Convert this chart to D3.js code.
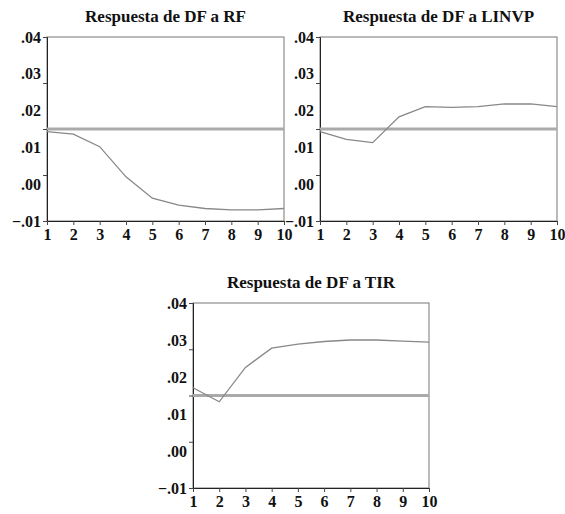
<!DOCTYPE html>
<html>
<head>
<meta charset="utf-8">
<style>
body { margin: 0; background: #fff; }
text { font-family: "Liberation Serif", "Times New Roman", serif; font-weight: bold; fill: #111; }
.frame { fill: none; stroke: #777; stroke-width: 1; }
.ref { stroke: #aaa; stroke-width: 3; }
.resp { fill: none; stroke: #888; stroke-width: 1.3; }
</style>
</head>
<body>
<svg width="565" height="514"></svg>
<script src="https://cdn.jsdelivr.net/npm/d3@7"></script>
<script>
// horizonte (periodos)
var periods = [1, 2, 3, 4, 5, 6, 7, 8, 9, 10];
var yTickLabels = [0.04, 0.03, 0.02, 0.01, 0.00, -0.01];
var refLevel = 0.015;

// respuestas
var respRF    = [0.0143, 0.0136, 0.0102, 0.0020, -0.0038, -0.0057, -0.0066, -0.0070, -0.0070, -0.0066];
var respLINVP = [0.0143, 0.0122, 0.0113, 0.0183, 0.0211, 0.0209, 0.0211, 0.0218, 0.0218, 0.0211];
var respTIR   = [0.0171, 0.0133, 0.0226, 0.0278, 0.0289, 0.0296, 0.0300, 0.0300, 0.0297, 0.0294];

var panels = [
  {title: "Respuesta de DF a RF",    vals: respRF,    x0: 47,  y0: 37,  w: 237, h: 184},
  {title: "Respuesta de DF a LINVP", vals: respLINVP, x0: 320, y0: 37,  w: 237, h: 184},
  {title: "Respuesta de DF a TIR",   vals: respTIR,   x0: 193, y0: 303, w: 236, h: 185}
];

var svg = d3.select("svg");
var fmt = function(d) { return d3.format(".2f")(d).replace("0.", "."); };

panels.forEach(function(p) {
  var g = svg.append("g").attr("transform", "translate(" + p.x0 + "," + p.y0 + ")");

  var x = d3.scaleLinear().domain([1, 10]).range([0, p.w]);
  var y = d3.scaleLinear().domain([-0.01, 0.04]).range([p.h, 0]);

  g.append("text")
      .attr("x", p.w / 2)
      .attr("y", -15)
      .attr("text-anchor", "middle")
      .style("font-size", "17px")
      .text(p.title);

  g.append("rect").attr("class", "frame")
      .attr("width", p.w).attr("height", p.h);

  // y: marcas (4 intervalos) y etiquetas aparte
  g.append("g")
      .call(d3.axisLeft(y).tickValues(d3.range(5).map(function(i) { return -0.01 + i * 0.0125; }))
        .tickSize(4).tickFormat(""))
      .call(function(a) { a.select(".domain").attr("stroke", "#222"); a.selectAll("line").attr("stroke", "#444"); });

  g.append("g")
      .call(d3.axisLeft(y).tickValues(yTickLabels).tickSize(0).tickPadding(6).tickFormat(fmt))
      .call(function(a) {
        a.select(".domain").remove();
        a.selectAll("text").style("font-size", "16px").attr("font-family", null).attr("fill", null);
      });

  g.append("g")
      .attr("transform", "translate(0," + p.h + ")")
      .call(d3.axisBottom(x).tickValues(periods).tickSize(4).tickPadding(4).tickFormat(d3.format("d")))
      .call(function(a) {
        a.select(".domain").attr("stroke", "#222");
        a.selectAll("line").attr("stroke", "#444");
        a.selectAll("text").style("font-size", "16px").attr("font-family", null).attr("fill", null);
      });

  g.append("line").attr("class", "ref")
      .attr("x1", 0).attr("x2", p.w)
      .attr("y1", y(refLevel)).attr("y2", y(refLevel));

  g.append("path").attr("class", "resp")
      .datum(p.vals)
      .attr("d", d3.line()
        .x(function(d, i) { return x(periods[i]); })
        .y(function(d) { return y(d); }));
});
</script>
</body>
</html>
